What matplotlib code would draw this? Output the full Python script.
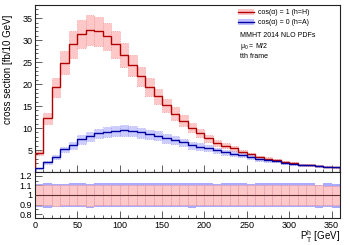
import numpy as np
import matplotlib
matplotlib.use('Agg')
import matplotlib.pyplot as plt
from matplotlib.patches import Patch
from matplotlib.lines import Line2D
from matplotlib.ticker import MultipleLocator

plt.rcParams['font.family'] = ['Liberation Sans', 'DejaVu Sans']
plt.rcParams['mathtext.default'] = 'regular'

# 10 GeV bins from 0 to 360
edges = np.arange(0, 370, 10)

# cos(a) = 1 (h=H), fb/10 GeV
xs_H = [4.3, 12.3, 19.3, 24.9, 29.1, 31.4, 32.4, 32.1, 30.9, 29.1, 26.7, 24.3,
        21.8, 19.4, 17.2, 15.2, 13.3, 11.7, 10.1, 8.8, 7.7, 6.7, 6.0, 5.4,
        4.6, 4.0, 3.4, 3.0, 2.7, 2.2, 2.0, 1.7, 1.6, 1.4, 1.2, 1.1]
# cos(a) = 0 (h=A)
xs_A = [0.85, 2.2, 3.5, 5.2, 6.1, 7.4, 8.2, 8.8, 9.2, 9.4, 9.5, 9.3,
        9.0, 8.6, 8.2, 7.7, 7.3, 6.8, 6.1, 5.8, 5.4, 4.9, 4.5, 4.2,
        3.9, 3.5, 3.0, 2.7, 2.5, 2.0, 1.8, 1.6, 1.5, 1.4, 1.2, 1.1]

# relative scale-uncertainty envelopes (up / down)
up_H = [1.10, 1.10, 1.105, 1.105, 1.10, 1.10, 1.105, 1.10, 1.10, 1.10, 1.10, 1.10,
        1.10, 1.10, 1.10, 1.10, 1.105, 1.10, 1.10, 1.10, 1.10, 1.10, 1.10, 1.10,
        1.10, 1.10, 1.10, 1.10, 1.10, 1.10, 1.10, 1.10, 1.10, 1.10, 1.095, 1.095]
dn_H = [0.895, 0.895, 0.89, 0.895, 0.895, 0.895, 0.89, 0.895, 0.895, 0.895, 0.895, 0.895,
        0.895, 0.895, 0.895, 0.895, 0.895, 0.895, 0.895, 0.895, 0.895, 0.895, 0.895, 0.895,
        0.895, 0.895, 0.895, 0.895, 0.895, 0.895, 0.895, 0.895, 0.895, 0.9, 0.9, 0.9]
up_A = [1.115, 1.12, 1.115, 1.115, 1.12, 1.125, 1.115, 1.12, 1.125, 1.125, 1.125, 1.125,
        1.125, 1.12, 1.125, 1.12, 1.125, 1.12, 1.125, 1.12, 1.12, 1.115, 1.12, 1.125,
        1.12, 1.115, 1.12, 1.12, 1.125, 1.125, 1.125, 1.12, 1.12, 1.105, 1.12, 1.115]
dn_A = [0.875, 0.865, 0.87, 0.875, 0.875, 0.875, 0.865, 0.87, 0.875, 0.875, 0.87, 0.87,
        0.87, 0.875, 0.875, 0.87, 0.87, 0.87, 0.865, 0.87, 0.87, 0.875, 0.87, 0.87,
        0.87, 0.875, 0.87, 0.87, 0.87, 0.87, 0.87, 0.87, 0.875, 0.865, 0.87, 0.865]

red_line = '#b00000'
red_fill = '#ffc8c8'
red_edge = '#f08080'
blue_line = '#0000a0'
blue_fill = '#c0c0ff'
blue_rfill = '#aaaaff'
blue_edge = '#8080f0'
tick_col = '#444444'

xs_H = np.array(xs_H)
xs_A = np.array(xs_A)
centers = edges[:-1] + 5

fig = plt.figure(figsize=(3.5, 2.45), dpi=100)
W, H = 350.0, 245.0
ax = fig.add_axes([35 / W, 1 - 172 / H, 305 / W, 167 / H])
axr = fig.add_axes([35 / W, 1 - 218 / H, 305 / W, 46 / H], sharex=ax)

# main panel: bands
ax.bar(centers, xs_H * (np.array(up_H) - np.array(dn_H)), bottom=xs_H * np.array(dn_H),
       width=10, color=red_fill, edgecolor=red_edge, linestyle=':', linewidth=0.5, zorder=1)
ax.bar(centers, xs_A * (np.array(up_A) - np.array(dn_A)), bottom=xs_A * np.array(dn_A),
       width=10, color=blue_fill, edgecolor=blue_edge, linestyle=':', linewidth=0.5,
       alpha=0.8, zorder=2)
ax.stairs(xs_H, edges, color=red_line, linewidth=1.0, zorder=3)
ax.stairs(xs_A, edges, color=blue_line, linewidth=1.0, zorder=4)

ax.set_xlim(0, 360)
ax.set_ylim(0, 38)
ax.set_yticks(np.arange(5, 36, 5))
ax.yaxis.set_minor_locator(MultipleLocator(1))
ax.xaxis.set_major_locator(MultipleLocator(50))
ax.xaxis.set_minor_locator(MultipleLocator(10))
ax.tick_params(axis='both', which='both', direction='in', color=tick_col, width=0.6,
               labelsize=6.5, pad=2, top=False, right=False)
ax.tick_params(axis='both', which='major', length=5)
ax.tick_params(axis='both', which='minor', length=2.5)
ax.tick_params(axis='x', labelbottom=False)

# legend
handles = [(Patch(facecolor=red_fill, edgecolor='none'), Line2D([], [], color=red_line, lw=1)),
           (Patch(facecolor=blue_fill, edgecolor='none'), Line2D([], [], color=blue_line, lw=1))]
labels = [u'cos(\u03b1) = 1 (h=H)', u'cos(\u03b1) = 0 (h=A)']
ax.legend(handles, labels, loc='upper left', bbox_to_anchor=(0.665, 0.975), frameon=False,
          fontsize=5, handlelength=2.3, handleheight=0.9, handletextpad=0.6,
          borderaxespad=0, borderpad=0, labelspacing=0.35)
ax.text(0.672, 0.816, 'MMHT 2014 NLO PDFs', transform=ax.transAxes, fontsize=5, va='center')
ax.text(0.672, 0.750, r'$\mu_0$ = M/2', transform=ax.transAxes, fontsize=5, va='center')
ax.text(0.672, 0.690, 'tth frame', transform=ax.transAxes, fontsize=5, va='center')

# ratio panel
axr.bar(centers, np.array(up_A) - np.array(dn_A), bottom=dn_A, width=10,
        color=blue_rfill, edgecolor='none', zorder=1)
axr.bar(centers, np.array(up_H) - np.array(dn_H), bottom=dn_H, width=10,
        color=red_fill, edgecolor=red_edge, linestyle=':', linewidth=0.5, zorder=2)
axr.axhline(1.0, color='#603030', linewidth=0.8, zorder=3)
axr.set_ylim(0.76, 1.24)
axr.set_yticks([0.8, 0.9, 1.0, 1.1, 1.2])
axr.set_yticklabels(['0.8', '0.9', '1', '1.1', '1.2'])
axr.yaxis.set_minor_locator(MultipleLocator(0.05))
axr.tick_params(axis='both', which='both', direction='in', color=tick_col, width=0.6,
                labelsize=6.5, pad=2, top=False, right=False)
axr.tick_params(axis='both', which='major', length=5)
axr.tick_params(axis='both', which='minor', length=2.5)

for a in (ax, axr):
    for s in a.spines.values():
        s.set_linewidth(0.8)
        s.set_color('#222222')

fig.text(8 / W, 1 - 69 / H, 'cross section [fb/10 GeV]', rotation=90,
         ha='center', va='center', fontsize=7)
fig.text(340 / W, 1 - 237 / H, r'$P_T^h$ [GeV]', ha='right', va='center', fontsize=7)

fig.savefig('out.png', dpi=100, facecolor='white')
